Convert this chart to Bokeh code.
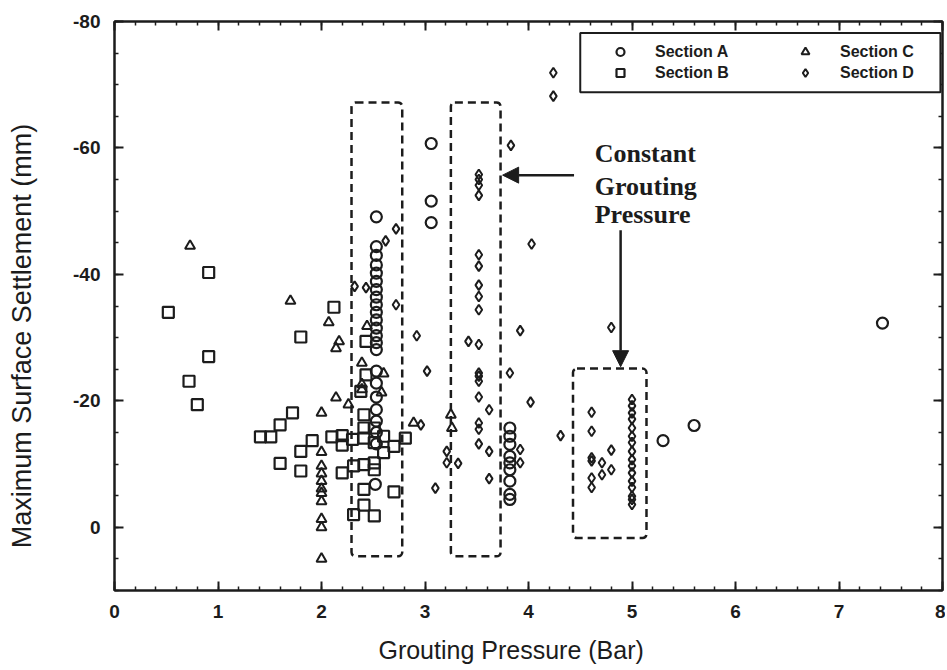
from bokeh.plotting import figure
from bokeh.models import (Range1d, SingleIntervalTicker, LinearAxis, Label, Legend, LegendItem,
                          BoxAnnotation, Arrow, NormalHead, CustomJSTickFormatter)
from bokeh.embed import file_html
from bokeh.resources import INLINE

# ---------------- data (Grouting pressure [bar], max surface settlement [mm]) ----------------
a_x = [3.06, 3.06, 3.06,
       2.53, 2.53, 2.53, 2.53, 2.53, 2.53, 2.53, 2.53, 2.53, 2.53, 2.53, 2.53, 2.53, 2.53, 2.53,
       2.53, 2.53, 2.53, 2.53, 2.53, 2.53, 2.53, 2.52,
       3.82, 3.82, 3.82, 3.82, 3.82, 3.82, 3.82, 3.82, 3.82,
       5.30, 5.60, 7.42]
a_y = [-60.7, -51.6, -48.2,
       -49.1, -44.4, -43.0, -41.5, -40.2, -38.9, -37.6, -36.4, -35.2, -34.0, -32.8, -31.5, -30.3,
       -29.2, -28.1, -24.7, -22.8, -20.6, -18.6, -16.8, -15.0, -13.2, -6.8,
       -15.7, -14.4, -13.1, -11.2, -10.2, -9.1, -7.3, -5.2, -4.4,
       -13.7, -16.1, -32.3]

b_x = [0.52, 0.91, 0.91, 0.72, 0.80, 1.80, 2.12, 2.43, 2.43, 2.38, 1.72, 2.41, 1.60, 1.41, 1.51,
       1.91, 2.10, 2.20, 2.20, 1.80, 2.30, 2.41, 2.41, 2.51, 2.51, 2.60, 2.60, 2.70, 2.81, 1.60,
       1.80, 2.20, 2.31, 2.41, 2.51, 2.51, 2.41, 2.70, 2.31, 2.41, 2.51]
b_y = [-34.0, -40.3, -27.0, -23.1, -19.4, -30.1, -34.8, -29.4, -24.1, -21.5, -18.1, -17.8, -16.2,
       -14.3, -14.3, -13.7, -14.3, -14.5, -13.0, -12.0, -13.9, -15.7, -14.1, -15.7, -13.4, -14.4,
       -11.8, -12.8, -14.1, -10.1, -8.9, -8.6, -9.7, -9.9, -10.2, -9.1, -6.0, -5.6, -2.0, -3.5, -1.8]

c_x = [0.73, 1.70, 2.07, 2.17, 2.14, 2.44, 2.39, 2.60, 2.39, 2.39, 2.58, 2.14, 2.26, 2.00, 2.00,
       2.00, 2.00, 2.00, 2.00, 2.00, 2.00, 2.00, 2.00, 2.00, 2.89, 3.25, 3.26]
c_y = [-44.5, -35.8, -32.4, -29.4, -28.3, -31.8, -26.0, -24.3, -22.6, -21.8, -21.3, -20.5, -19.4,
       -18.1, -11.9, -9.7, -8.5, -7.3, -6.1, -5.4, -4.1, -1.3, 0.0, 5.0, -16.5, -17.8, -15.7]

d_x = [2.62, 2.72, 2.32, 2.43, 2.72, 2.92, 3.02, 2.96, 3.10, 3.42,
       3.52, 3.52, 3.52, 3.52, 3.52, 3.52, 3.52, 3.52, 3.52, 3.52, 3.52, 3.52, 3.52, 3.52, 3.52,
       3.52, 3.52,
       3.92, 3.82, 4.02, 3.62, 3.62, 3.92, 3.92, 3.62, 3.21, 3.21, 3.32, 4.31, 4.80, 4.24, 4.24,
       3.83, 4.03,
       4.61, 4.61, 4.61, 4.61, 4.61, 4.61, 4.71, 4.71, 4.80, 4.80,
       5.00, 5.00, 5.00, 5.00, 5.00, 5.00, 5.00, 5.00, 5.00, 5.00, 5.00, 5.00, 5.00, 5.00, 5.00,
       5.00]
d_y = [-45.3, -47.2, -38.1, -37.9, -35.2, -30.3, -24.7, -16.2, -6.2, -29.4,
       -55.8, -55.0, -54.1, -52.5, -43.1, -41.3, -38.3, -36.5, -34.4, -28.9, -24.4, -23.9, -23.1,
       -20.6, -16.5, -15.5, -13.2,
       -31.1, -24.4, -19.8, -18.6, -12.0, -12.3, -10.2, -7.7, -12.0, -10.2, -10.1, -14.5, -31.6,
       -71.9, -68.2, -60.4, -44.8,
       -18.2, -15.2, -11.0, -10.5, -7.8, -6.3, -10.2, -8.3, -12.2, -9.1,
       -20.2, -19.2, -18.1, -17.1, -15.7, -14.4, -13.4, -12.0, -10.7, -9.7, -8.6, -7.3, -6.3,
       -4.9, -4.4, -3.6]

series_labels = ["Section A", "Section B", "Section C", "Section D"]
x_title = "Grouting Pressure (Bar)"
y_title = "Maximum Surface Settlement (mm)"
note_lines = ["Constant", "Grouting", "Pressure"]
x_ticks_interval = 1
y_ticks_interval = 20

# dashed "constant grouting pressure" boxes: (left, right, top, bottom) in data units
boxes = [(2.29, 2.78, -67.2, 4.6), (3.25, 3.73, -67.2, 4.6), (4.43, 5.14, -25.1, 1.7)]

INK = "#1c1c1c"
FONT = "Liberation Sans"
NBSP = "\u00a0"

p = figure(width=945, height=670, x_range=Range1d(0, 8), y_range=Range1d(10, -80),
           output_backend="svg", toolbar_location=None,
           min_border_left=114, min_border_right=3, min_border_top=21, min_border_bottom=80)
p.xgrid.visible = False
p.ygrid.visible = False
p.outline_line_color = INK
p.outline_line_width = 2
p.background_fill_color = "white"
p.border_fill_color = "white"

plain_fmt = CustomJSTickFormatter(code="return tick.toFixed(0)")
blank_fmt = CustomJSTickFormatter(code="return ''")


def style_axis(ax, labels=True):
    ax.axis_line_color = INK
    ax.axis_line_width = 2
    ax.major_tick_in = 9
    ax.major_tick_out = 0
    ax.minor_tick_in = 4
    ax.minor_tick_out = 0
    ax.major_tick_line_color = INK
    ax.minor_tick_line_color = INK
    ax.major_tick_line_width = 2
    ax.minor_tick_line_width = 1.5
    if labels:
        ax.formatter = plain_fmt
        ax.major_label_text_font = FONT
        ax.major_label_text_font_style = "bold"
        ax.major_label_text_font_size = "19px"
        ax.major_label_text_color = INK
        ax.major_label_standoff = 14
        ax.axis_label_text_font = FONT
        ax.axis_label_text_font_style = "normal"
        ax.axis_label_text_color = INK
    else:
        ax.formatter = blank_fmt
        ax.major_label_text_font_size = "1px"
        ax.major_label_standoff = 0


xt = SingleIntervalTicker(interval=x_ticks_interval, num_minor_ticks=5)
yt = SingleIntervalTicker(interval=y_ticks_interval, num_minor_ticks=4)
p.xaxis.ticker = xt
p.yaxis.ticker = yt
style_axis(p.xaxis[0])
style_axis(p.yaxis[0])

# axis titles; trailing no-break spaces shift the visible text like in the original
p.xaxis.axis_label = x_title + NBSP * 5
p.xaxis.axis_label_text_font_size = "25px"
p.xaxis.axis_label_standoff = 15
p.yaxis.axis_label = y_title + NBSP * 8
p.yaxis.axis_label_text_font_size = "27px"
p.yaxis.axis_label_standoff = 33

top_ax = LinearAxis(ticker=xt)
right_ax = LinearAxis(ticker=yt)
style_axis(top_ax, labels=False)
style_axis(right_ax, labels=False)
p.add_layout(top_ax, "above")
p.add_layout(right_ax, "right")

# dashed boxes
for (l, r, t, b) in boxes:
    p.add_layout(BoxAnnotation(left=l, right=r, top=t, bottom=b, fill_alpha=0, fill_color=None,
                               line_color=INK, line_alpha=1, line_width=2.5, line_dash="8 5",
                               border_radius=4))

# scatter series
ra = p.scatter(a_x, a_y, marker="circle", size=11, fill_color=None, line_color=INK, line_width=2.2)
rb = p.scatter(b_x, b_y, marker="square", size=11, fill_color=None, line_color=INK, line_width=2.2)
rc = p.scatter(c_x, c_y, marker="triangle", size=10, fill_color=None, line_color=INK, line_width=2)
rd = p.scatter(d_x, d_y, marker="diamond", size=10, fill_color=None, line_color=INK, line_width=2)

# annotation text + arrows
for txt, yy in zip(note_lines, [-59.1, -53.9, -49.5]):
    p.add_layout(Label(x=4.64, y=yy, text=txt, text_font="Liberation Serif", text_font_style="bold",
                       text_font_size="26px", text_color=INK, text_baseline="alphabetic"))
p.add_layout(Arrow(end=NormalHead(size=16, fill_color=INK, line_color=INK), x_start=4.44, y_start=-55.7,
                   x_end=3.75, y_end=-55.7, line_width=2.5, line_color=INK))
p.add_layout(Arrow(end=NormalHead(size=16, fill_color=INK, line_color=INK), x_start=4.89, y_start=-47.0,
                   x_end=4.89, y_end=-25.4, line_width=2.5, line_color=INK))

# legend frame + legend
p.add_layout(BoxAnnotation(left=4.50, right=7.98, top=-78.2, bottom=-68.8, fill_color="white",
                           fill_alpha=1, line_color=INK, line_alpha=1, line_width=2))
legend = Legend(items=[LegendItem(label=series_labels[0], renderers=[ra]),
                       LegendItem(label=series_labels[1], renderers=[rb]),
                       LegendItem(label=series_labels[2], renderers=[rc]),
                       LegendItem(label=series_labels[3], renderers=[rd])],
                location=(491, 502), orientation="vertical", ncols=2,
                border_line_alpha=0, background_fill_alpha=0, padding=5, spacing=0,
                glyph_width=20, glyph_height=21, label_height=21, label_width=140, label_standoff=25,
                label_text_font=FONT, label_text_font_style="bold", label_text_font_size="16px",
                label_text_color=INK, margin=0)
p.add_layout(legend)

open("out.html", "w").write(file_html(p, INLINE))
